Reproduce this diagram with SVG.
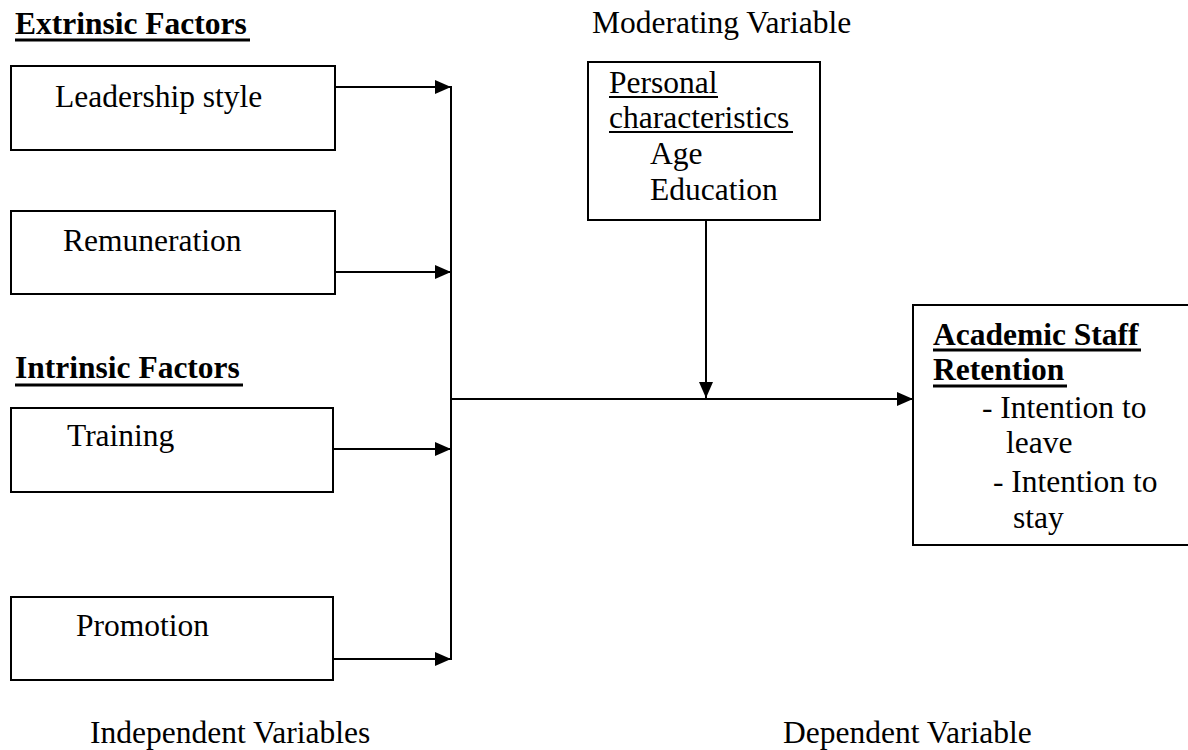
<svg xmlns="http://www.w3.org/2000/svg" width="1188" height="750" viewBox="0 0 1188 750">
<style>
text{font-family:"Liberation Serif","Times New Roman",serif;font-size:31.5px;fill:#000}
.b{font-weight:bold}
.box{fill:#fff;stroke:#000;stroke-width:2}
.ul{stroke:#000;stroke-width:2}
.ulb{stroke:#000;stroke-width:3}
.conn line{stroke:#000;stroke-width:2}
</style>
<defs>
<marker id="ah" markerUnits="userSpaceOnUse" markerWidth="16" markerHeight="16" viewBox="0 0 16 16" refX="16" refY="8" orient="auto">
<path d="M0,1 L16,8 L0,15 Z" fill="#000"/>
</marker>
</defs>
<rect width="1188" height="750" fill="#fff"/>
<g id="labels">
<text class="b" x="15" y="34">Extrinsic Factors</text>
<line class="ulb" x1="15" y1="40" x2="250" y2="40"/>
<text class="b" x="15" y="378">Intrinsic Factors</text>
<line class="ulb" x1="15" y1="385" x2="243" y2="385"/>
<text x="592" y="33">Moderating Variable</text>
<text x="90" y="743">Independent Variables</text>
<text x="783" y="743">Dependent Variable</text>
</g>
<g id="leadership">
<rect class="box" x="11" y="66" width="324" height="84"/>
<text x="55" y="107">Leadership style</text>
</g>
<g id="remuneration">
<rect class="box" x="11" y="211" width="324" height="83"/>
<text x="63" y="251">Remuneration</text>
</g>
<g id="training">
<rect class="box" x="11" y="408" width="322" height="84"/>
<text x="67" y="446">Training</text>
</g>
<g id="promotion">
<rect class="box" x="11" y="597" width="322" height="83"/>
<text x="76" y="636">Promotion</text>
</g>
<g id="moderator">
<rect class="box" x="588" y="62" width="232" height="158"/>
<text x="609" y="93">Personal</text>
<line class="ul" x1="609" y1="97" x2="718" y2="97"/>
<text x="609" y="128">characteristics</text>
<line class="ul" x1="609" y1="132" x2="793" y2="132"/>
<text x="650" y="164">Age</text>
<text x="650" y="200">Education</text>
</g>
<g id="retention">
<rect class="box" x="913" y="305" width="290" height="240"/>
<text class="b" x="933" y="345">Academic Staff</text>
<line class="ulb" x1="933" y1="350" x2="1141" y2="350"/>
<text class="b" x="933" y="380">Retention</text>
<line class="ulb" x1="933" y1="386" x2="1067" y2="386"/>
<text x="982" y="418">- Intention to</text>
<text x="1006" y="453">leave</text>
<text x="993" y="492">- Intention to</text>
<text x="1013" y="528">stay</text>
</g>
<g id="connectors" class="conn">
<line x1="335" y1="87" x2="451" y2="87" marker-end="url(#ah)"/>
<line x1="335" y1="272" x2="451" y2="272" marker-end="url(#ah)"/>
<line x1="333" y1="449" x2="451" y2="449" marker-end="url(#ah)"/>
<line x1="333" y1="659" x2="451" y2="659" marker-end="url(#ah)"/>
<line x1="451" y1="86" x2="451" y2="660"/>
<line x1="451" y1="399" x2="913" y2="399" marker-end="url(#ah)"/>
<line x1="706" y1="220" x2="706" y2="398" marker-end="url(#ah)"/>
</g>
</svg>
